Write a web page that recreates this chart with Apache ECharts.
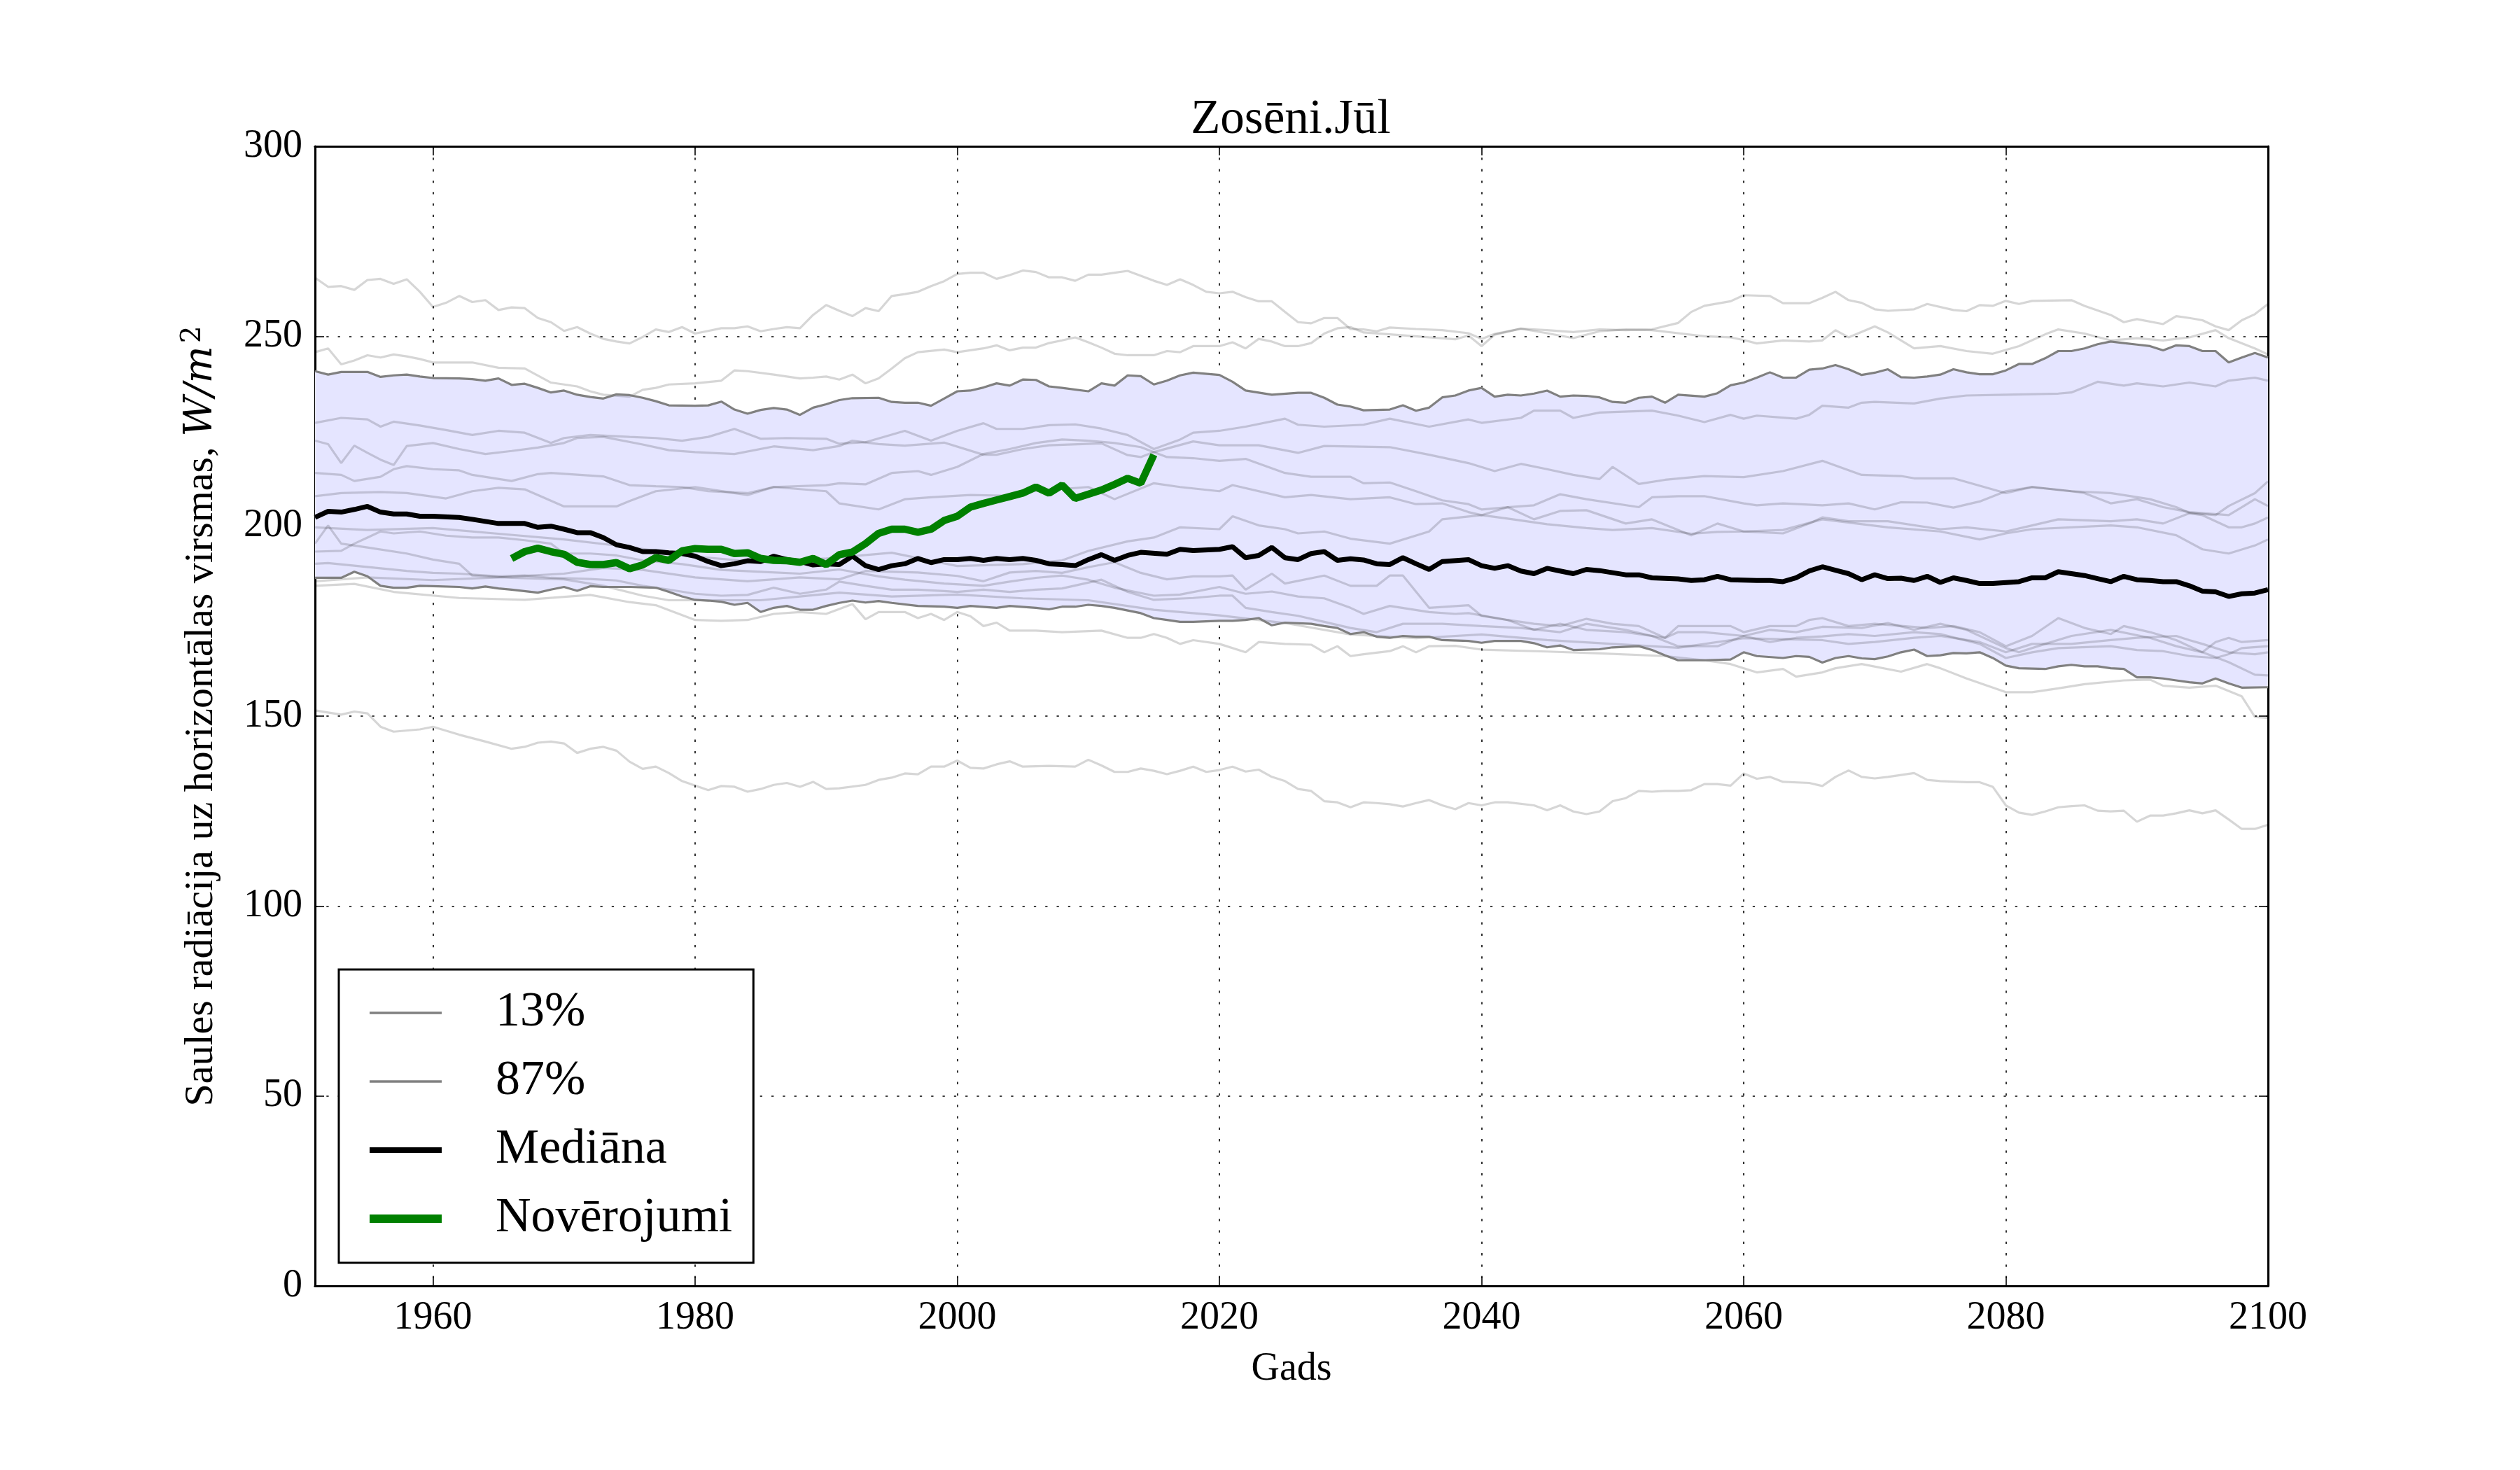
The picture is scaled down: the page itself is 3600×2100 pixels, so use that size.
<!DOCTYPE html>
<html>
<head>
<meta charset="utf-8">
<script src="https://cdn.jsdelivr.net/npm/echarts@6/dist/echarts.min.js"></script>
<style>
html,body{margin:0;padding:0;background:#fff;}
#chart{width:3600px;height:2100px;}
</style>
</head>
<body>
<div id="chart"></div>
<script>
// ---------------- DATA ----------------
const xTicks = [1960, 1980, 2000, 2020, 2040, 2060, 2080, 2100];
const titleText = 'Zosēni.Jūl';
const xName = 'Gads';

// 87% percentile
const p87 = [[1951,240.8],[1952,239.9],[1953,240.6],[1955,240.6],[1956,239.3],[1957,239.7],[1958,239.9],[1959,239.4],[1960,239.0],[1962,238.9],[1963,238.7],[1964,238.3],[1965,238.9],[1966,237.2],[1967,237.5],[1968,236.4],[1969,235.2],[1970,235.7],[1971,234.6],[1972,234.0],[1973,233.6],[1974,234.7],[1975,234.5],[1976,233.8],[1977,232.9],[1978,231.8],[1980,231.7],[1981,231.8],[1982,232.8],[1983,230.7],[1984,229.6],[1985,230.6],[1986,231.1],[1987,230.7],[1988,229.3],[1989,231.2],[1990,232.1],[1991,233.2],[1992,233.7],[1994,233.8],[1995,232.7],[1996,232.5],[1997,232.5],[1998,231.7],[1999,233.6],[2000,235.5],[2001,235.7],[2002,236.5],[2003,237.6],[2004,237.0],[2005,238.6],[2006,238.5],[2007,236.8],[2008,236.4],[2010,235.5],[2011,237.6],[2012,237.0],[2013,239.7],[2014,239.5],[2015,237.3],[2016,238.3],[2017,239.7],[2018,240.4],[2020,239.8],[2021,238.0],[2022,235.7],[2024,234.6],[2026,235.1],[2027,235.1],[2028,233.8],[2029,232.0],[2030,231.5],[2031,230.5],[2032,230.6],[2033,230.7],[2034,231.8],[2035,230.4],[2036,231.2],[2037,233.9],[2038,234.4],[2039,235.7],[2040,236.4],[2041,234.1],[2042,234.6],[2043,234.4],[2044,234.9],[2045,235.7],[2046,234.1],[2047,234.4],[2048,234.3],[2049,233.9],[2050,232.7],[2051,232.5],[2052,233.8],[2053,234.1],[2054,232.5],[2055,234.6],[2057,234.1],[2058,235.0],[2059,237.1],[2060,237.8],[2061,239.1],[2062,240.5],[2063,239.1],[2064,239.1],[2065,241.2],[2066,241.5],[2067,242.4],[2068,241.3],[2069,239.8],[2070,240.4],[2071,241.3],[2072,239.2],[2073,239.1],[2074,239.4],[2075,239.9],[2076,241.3],[2077,240.5],[2078,240.0],[2079,240.0],[2080,241.0],[2081,242.7],[2082,242.7],[2083,244.2],[2084,246.1],[2085,246.1],[2086,246.8],[2087,247.9],[2088,248.6],[2089,248.2],[2090,247.8],[2091,247.4],[2092,246.3],[2093,247.6],[2094,247.4],[2095,246.1],[2096,246.1],[2097,243.1],[2098,244.4],[2099,245.6],[2100,244.4]];

// 13% percentile
const p13 = [[1951,186.4],[1953,186.4],[1954,188.0],[1955,186.8],[1956,184.3],[1957,183.8],[1958,183.8],[1959,184.3],[1960,184.2],[1962,184.0],[1963,183.6],[1964,184.1],[1965,183.6],[1966,183.3],[1968,182.5],[1969,183.3],[1970,184.0],[1971,183.0],[1972,184.2],[1973,184.0],[1975,184.0],[1977,183.8],[1978,182.7],[1979,181.5],[1980,180.6],[1981,180.4],[1982,180.1],[1983,179.3],[1984,179.8],[1985,177.4],[1986,178.5],[1987,179.0],[1988,178.0],[1989,178.0],[1990,179.0],[1991,179.8],[1992,180.4],[1993,179.9],[1994,180.3],[1995,179.8],[1997,179.0],[1999,178.8],[2000,178.5],[2001,179.0],[2003,178.5],[2004,179.0],[2006,178.5],[2007,178.1],[2008,178.8],[2009,178.8],[2010,179.3],[2011,179.0],[2012,178.5],[2013,177.8],[2014,177.1],[2015,175.8],[2016,175.3],[2017,174.8],[2018,174.8],[2020,175.1],[2021,175.1],[2022,175.3],[2023,175.8],[2024,173.9],[2025,174.6],[2027,174.3],[2028,173.7],[2029,173.2],[2030,171.6],[2031,172.1],[2032,170.9],[2033,170.6],[2034,171.1],[2035,170.9],[2036,170.9],[2037,170.0],[2039,169.8],[2040,169.3],[2041,169.8],[2043,169.8],[2044,169.2],[2045,168.1],[2046,168.6],[2047,167.4],[2049,167.6],[2050,168.1],[2052,168.4],[2053,167.4],[2054,166.0],[2055,164.7],[2057,164.7],[2059,164.9],[2060,166.8],[2061,165.8],[2063,165.3],[2064,165.8],[2065,165.6],[2066,164.1],[2067,165.3],[2068,165.8],[2069,165.2],[2070,165.0],[2071,165.7],[2072,166.8],[2073,167.5],[2074,165.8],[2075,166.0],[2076,166.6],[2077,166.5],[2078,166.8],[2079,165.3],[2080,163.3],[2081,162.6],[2083,162.4],[2084,163.1],[2085,163.5],[2086,163.1],[2087,163.1],[2088,162.6],[2089,162.4],[2090,160.2],[2091,160.2],[2092,159.9],[2093,159.4],[2094,158.9],[2095,158.6],[2096,159.9],[2097,158.6],[2098,157.5],[2100,157.6]];

// Median
const median = [[1951,202.3],[1952,203.9],[1953,203.7],[1954,204.4],[1955,205.2],[1956,203.7],[1957,203.2],[1958,203.2],[1959,202.6],[1960,202.6],[1962,202.3],[1963,201.8],[1965,200.7],[1967,200.7],[1968,199.7],[1969,200.0],[1970,199.2],[1971,198.3],[1972,198.3],[1973,197.0],[1974,195.1],[1975,194.4],[1976,193.3],[1977,193.3],[1978,193.0],[1979,192.8],[1980,192.1],[1981,190.7],[1982,189.6],[1983,190.1],[1984,190.9],[1985,190.7],[1986,192.1],[1987,191.2],[1988,190.7],[1989,189.8],[1990,190.1],[1991,189.9],[1992,192.1],[1993,189.6],[1994,188.6],[1995,189.6],[1996,190.1],[1997,191.5],[1998,190.4],[1999,191.2],[2000,191.2],[2001,191.5],[2002,191.0],[2003,191.5],[2004,191.2],[2005,191.5],[2006,191.0],[2007,190.1],[2008,189.9],[2009,189.6],[2010,191.2],[2011,192.5],[2012,191.0],[2013,192.3],[2014,193.1],[2016,192.6],[2017,193.9],[2018,193.6],[2020,193.9],[2021,194.6],[2022,191.7],[2023,192.3],[2024,194.4],[2025,191.7],[2026,191.2],[2027,192.8],[2028,193.3],[2029,191.0],[2030,191.4],[2031,191.1],[2032,190.1],[2033,189.9],[2034,191.7],[2035,190.1],[2036,188.6],[2037,190.7],[2039,191.2],[2040,189.6],[2041,188.9],[2042,189.6],[2043,188.2],[2044,187.5],[2045,188.9],[2046,188.2],[2047,187.5],[2048,188.6],[2049,188.3],[2051,187.2],[2052,187.2],[2053,186.4],[2055,186.1],[2056,185.7],[2057,185.9],[2058,186.8],[2059,185.9],[2061,185.7],[2062,185.7],[2063,185.4],[2064,186.4],[2065,188.2],[2066,189.3],[2067,188.4],[2068,187.5],[2069,185.9],[2070,187.2],[2071,186.2],[2072,186.3],[2073,185.7],[2074,186.8],[2075,185.2],[2076,186.4],[2077,185.7],[2078,184.9],[2079,184.9],[2081,185.4],[2082,186.4],[2083,186.4],[2084,188.0],[2085,187.5],[2086,187.0],[2087,186.2],[2088,185.4],[2089,186.8],[2090,185.9],[2091,185.7],[2092,185.4],[2093,185.4],[2094,184.3],[2095,182.9],[2096,182.7],[2097,181.5],[2098,182.2],[2099,182.4],[2100,183.3]];

// Observations
const observed = [[1966,191.5],[1967,193.3],[1968,194.2],[1969,193.3],[1970,192.6],[1971,190.5],[1972,189.9],[1973,189.9],[1974,190.4],[1975,188.8],[1976,189.8],[1977,191.7],[1978,191.0],[1979,193.5],[1980,194.1],[1981,193.9],[1982,193.9],[1983,192.8],[1984,193.0],[1985,191.5],[1986,191.0],[1987,190.9],[1988,190.5],[1989,191.5],[1990,189.9],[1991,192.5],[1992,193.2],[1993,195.4],[1994,198.1],[1995,199.2],[1996,199.2],[1997,198.4],[1998,199.2],[1999,201.5],[2000,202.6],[2001,205.0],[2002,206.0],[2003,206.9],[2004,207.8],[2005,208.7],[2006,210.3],[2007,208.7],[2008,210.8],[2009,207.3],[2010,208.4],[2011,209.5],[2012,211.0],[2013,212.6],[2014,211.3],[2015,218.8]];

// Ensemble members (light gray)
const memberA = [[1951,265.4],[1952,263.0],[1953,263.2],[1954,262.2],[1955,264.8],[1956,265.1],[1957,263.8],[1958,265.0],[1959,261.7],[1960,257.7],[1961,258.8],[1962,260.6],[1963,259.0],[1964,259.5],[1965,256.9],[1966,257.6],[1967,257.4],[1968,254.8],[1969,253.7],[1970,251.4],[1971,252.4],[1972,250.7],[1973,249.3],[1974,248.6],[1975,248.1],[1976,249.8],[1977,251.8],[1978,251.1],[1979,252.4],[1980,250.7],[1981,251.4],[1982,252.1],[1983,252.1],[1984,252.6],[1985,251.3],[1986,251.9],[1987,252.4],[1988,252.1],[1989,255.6],[1990,258.2],[1991,256.7],[1992,255.3],[1993,257.4],[1994,256.6],[1995,260.6],[1996,261.1],[1997,261.7],[1998,263.2],[1999,264.5],[2000,266.4],[2001,266.7],[2002,266.7],[2003,265.1],[2004,266.1],[2005,267.3],[2006,266.9],[2007,265.5],[2008,265.5],[2009,264.6],[2010,266.2],[2011,266.2],[2012,266.7],[2013,267.2],[2014,265.9],[2015,264.6],[2016,263.5],[2017,265.0],[2018,263.5],[2019,261.7],[2020,261.3],[2021,261.7],[2022,260.3],[2023,259.2],[2024,259.2],[2025,256.4],[2026,253.7],[2027,253.4],[2028,254.8],[2029,254.8],[2030,251.9],[2031,251.8],[2032,251.3],[2033,252.3],[2035,251.9],[2037,251.6],[2039,250.8],[2040,249.3],[2041,250.6],[2043,252.0],[2045,251.6],[2047,251.1],[2049,251.8],[2051,251.6],[2053,251.8],[2055,253.5],[2056,256.4],[2057,258.0],[2059,259.2],[2060,260.8],[2062,260.6],[2063,258.7],[2065,258.7],[2066,260.1],[2067,261.7],[2068,259.5],[2069,258.8],[2070,257.1],[2071,256.7],[2073,257.1],[2074,258.5],[2076,256.9],[2077,256.6],[2078,258.2],[2079,258.0],[2080,259.3],[2081,258.5],[2082,259.3],[2085,259.5],[2086,258.0],[2088,255.6],[2089,253.7],[2090,254.5],[2092,253.2],[2093,255.3],[2094,254.8],[2095,254.2],[2096,252.6],[2097,251.6],[2098,254.2],[2099,255.8],[2100,258.5]];
const memberB = [[1951,245.8],[1952,246.8],[1953,242.6],[1954,243.6],[1955,245.0],[1956,244.4],[1957,245.2],[1958,244.7],[1959,244.0],[1960,243.1],[1963,243.1],[1965,241.7],[1967,241.5],[1969,237.8],[1971,236.8],[1972,235.5],[1973,234.6],[1975,234.1],[1976,235.9],[1977,236.4],[1978,237.3],[1980,237.6],[1982,238.3],[1983,241.0],[1984,240.8],[1986,239.9],[1988,238.9],[1989,239.1],[1990,239.4],[1991,238.6],[1992,239.9],[1993,237.6],[1994,238.9],[1995,241.5],[1996,244.2],[1997,245.8],[1999,246.5],[2000,245.8],[2002,246.8],[2003,247.6],[2004,246.3],[2005,247.0],[2006,247.0],[2007,248.2],[2008,248.9],[2009,249.7],[2010,248.4],[2011,247.0],[2012,245.4],[2013,245.0],[2015,245.0],[2016,246.1],[2017,245.8],[2018,247.4],[2020,247.4],[2021,248.4],[2022,246.8],[2023,249.3],[2024,248.6],[2025,247.4],[2026,247.4],[2027,248.2],[2028,250.7],[2029,252.1],[2030,252.4],[2031,251.0],[2033,250.5],[2036,249.7],[2038,249.2],[2039,250.2],[2040,247.4],[2041,250.4],[2043,252.0],[2045,250.8],[2047,249.5],[2049,251.3],[2051,251.8],[2053,251.6],[2055,250.8],[2057,250.0],[2059,249.7],[2060,249.0],[2061,248.1],[2063,248.9],[2065,248.6],[2066,248.9],[2067,251.6],[2068,249.7],[2070,252.6],[2071,251.0],[2073,246.8],[2075,247.4],[2077,246.1],[2079,245.4],[2081,247.4],[2083,250.5],[2084,251.8],[2086,250.7],[2088,248.9],[2090,249.5],[2092,248.9],[2094,249.7],[2096,251.6],[2097,249.5],[2099,246.8],[2100,245.2]];
const memberC = [[1951,227.2],[1953,228.5],[1955,228.1],[1956,226.2],[1957,227.5],[1959,226.5],[1961,225.3],[1963,224.0],[1965,225.1],[1967,224.6],[1969,221.9],[1970,223.2],[1972,224.0],[1975,223.5],[1977,223.2],[1979,222.5],[1981,223.5],[1983,225.6],[1985,223.0],[1987,223.2],[1990,223.0],[1991,221.7],[1993,222.1],[1996,225.1],[1998,222.5],[2000,225.1],[2002,227.1],[2003,225.6],[2005,225.6],[2007,226.6],[2009,226.8],[2011,225.7],[2013,224.0],[2015,220.3],[2017,222.8],[2018,224.6],[2020,225.1],[2022,226.2],[2025,228.3],[2026,226.7],[2028,226.2],[2031,226.7],[2033,228.3],[2036,226.2],[2039,228.1],[2040,227.2],[2043,228.5],[2044,230.4],[2046,230.4],[2047,228.5],[2049,229.9],[2053,230.4],[2055,229.1],[2057,227.4],[2059,229.3],[2060,228.3],[2061,229.1],[2064,228.3],[2065,229.3],[2066,231.7],[2068,231.2],[2069,232.5],[2070,232.7],[2073,232.3],[2075,233.6],[2077,234.4],[2080,234.6],[2084,234.9],[2085,235.2],[2087,238.0],[2089,237.0],[2090,237.6],[2092,236.8],[2094,237.8],[2096,236.8],[2097,238.3],[2099,239.1],[2100,238.3]];
const memberD = [[1951,222.5],[1952,221.6],[1953,216.6],[1954,221.2],[1955,219.3],[1956,217.5],[1957,216.1],[1958,221.1],[1960,221.9],[1962,220.3],[1964,219.0],[1966,219.8],[1968,220.7],[1970,221.9],[1971,223.2],[1973,223.5],[1976,221.5],[1978,220.0],[1980,219.5],[1983,219.0],[1986,221.0],[1989,220.0],[1991,221.1],[1992,222.5],[1994,221.6],[1996,221.2],[1999,222.0],[2002,218.8],[2003,218.8],[2005,220.3],[2007,221.3],[2011,221.8],[2013,218.7],[2014,218.2],[2015,219.5],[2018,222.3],[2020,221.3],[2023,221.3],[2026,219.3],[2028,221.1],[2033,220.8],[2036,218.8],[2039,216.6],[2041,214.5],[2043,216.4],[2045,215.0],[2047,213.5],[2049,212.4],[2050,215.6],[2052,211.1],[2054,212.2],[2057,213.2],[2060,212.9],[2063,214.5],[2066,217.2],[2069,213.5],[2072,213.2],[2073,212.6],[2076,212.6],[2080,208.7],[2082,210.3],[2085,209.2],[2088,208.7],[2091,207.1],[2093,205.0],[2094,203.5],[2096,202.9],[2097,205.3],[2099,208.7],[2100,211.8]];
const memberE = [[1951,214.0],[1953,213.5],[1954,211.9],[1956,213.0],[1957,215.0],[1958,215.8],[1960,215.0],[1962,214.7],[1963,213.5],[1966,211.9],[1968,213.7],[1969,214.0],[1973,213.1],[1975,210.8],[1977,210.5],[1979,210.3],[1981,209.2],[1984,208.7],[1986,210.3],[1990,210.8],[1991,211.3],[1993,211.0],[1995,214.0],[1997,214.5],[1998,213.5],[2000,215.6],[2002,219.0],[2004,220.3],[2006,221.9],[2008,222.8],[2010,222.5],[2012,221.9],[2014,220.8],[2016,218.2],[2018,217.9],[2020,217.2],[2022,217.7],[2025,214.0],[2027,213.0],[2030,213.0],[2031,211.3],[2033,211.5],[2035,209.2],[2037,206.8],[2039,205.8],[2040,204.4],[2042,205.0],[2044,201.8],[2046,204.0],[2048,204.2],[2051,200.7],[2053,201.8],[2056,197.6],[2058,200.7],[2060,198.6],[2063,198.1],[2065,200.7],[2066,202.3],[2068,201.3],[2071,201.3],[2075,199.2],[2077,199.7],[2080,198.6],[2082,200.2],[2084,201.8],[2088,201.3],[2090,201.8],[2092,200.7],[2094,203.4],[2095,202.9],[2097,199.7],[2098,199.7],[2099,200.7],[2100,202.3]];
const memberF = [[1951,207.9],[1953,208.7],[1956,209.0],[1958,208.7],[1961,207.3],[1963,209.2],[1965,210.1],[1967,209.7],[1970,205.2],[1972,205.2],[1974,205.2],[1975,206.6],[1977,209.2],[1980,210.3],[1983,208.7],[1984,208.2],[1986,210.3],[1990,209.2],[1991,206.0],[1994,204.4],[1996,207.1],[1998,207.6],[2001,208.2],[2004,208.0],[2006,209.3],[2008,209.8],[2010,210.3],[2012,207.1],[2015,211.3],[2017,210.3],[2020,209.2],[2021,210.8],[2025,207.6],[2027,208.2],[2030,207.1],[2033,207.6],[2035,205.8],[2037,206.0],[2039,203.7],[2040,202.9],[2042,205.0],[2044,205.5],[2046,208.4],[2048,207.1],[2052,205.0],[2053,207.6],[2055,207.9],[2057,207.9],[2060,206.0],[2061,205.5],[2063,206.0],[2066,205.5],[2068,206.0],[2070,204.4],[2072,206.3],[2074,206.2],[2076,204.9],[2078,206.5],[2080,209.2],[2082,210.3],[2085,209.2],[2086,208.7],[2088,206.0],[2090,207.1],[2092,205.0],[2094,203.7],[2097,202.9],[2098,205.0],[2099,207.1],[2100,205.3]];
const memberG = [[1951,199.7],[1955,199.0],[1960,199.5],[1965,198.0],[1970,196.5],[1975,194.5],[1980,192.0],[1985,190.5],[1990,191.5],[1995,193.0],[2000,189.5],[2005,190.0],[2008,191.0],[2010,193.5],[2013,196.0],[2015,197.0],[2017,199.7],[2020,199.2],[2021,202.6],[2023,200.2],[2025,199.2],[2026,198.1],[2028,198.6],[2030,196.7],[2033,195.4],[2036,198.6],[2037,201.8],[2040,202.9],[2042,202.0],[2045,200.5],[2048,199.5],[2050,199.0],[2053,199.5],[2056,198.0],[2058,198.5],[2060,198.6],[2063,199.0],[2066,201.8],[2071,199.7],[2075,198.6],[2078,196.5],[2080,198.1],[2082,199.2],[2088,200.2],[2090,199.7],[2093,197.6],[2095,193.9],[2097,192.8],[2099,194.9],[2100,196.5]];
const memberH = [[1951,195.4],[1952,200.2],[1953,195.4],[1955,194.4],[1958,192.8],[1960,191.2],[1962,190.1],[1963,187.0],[1966,186.4],[1970,186.0],[1973,184.3],[1976,181.7],[1978,180.5],[1981,180.5],[1985,180.5],[1988,181.5],[1991,182.5],[1995,181.5],[2000,182.0],[2005,181.0],[2010,180.5],[2015,178.0],[2020,176.5],[2025,174.5],[2030,171.5],[2035,170.5],[2040,171.5],[2045,170.0],[2050,169.0],[2055,168.0],[2060,170.5],[2066,170.0],[2068,169.0],[2070,169.5],[2073,170.6],[2075,171.1],[2078,169.5],[2080,166.8],[2082,169.0],[2085,169.0],[2088,170.0],[2090,170.6],[2093,171.1],[2094,170.0],[2095,169.0],[2097,166.8],[2099,166.3],[2100,166.8]];
const memberI = [[1951,190.1],[1952,190.3],[1954,189.6],[1956,188.9],[1958,188.2],[1960,187.7],[1962,187.5],[1965,186.8],[1967,187.0],[1969,186.4],[1972,186.1],[1974,185.7],[1976,184.3],[1978,183.3],[1980,182.2],[1982,181.7],[1984,181.9],[1986,183.8],[1988,182.2],[1990,183.3],[1991,185.4],[1993,184.3],[1995,183.3],[1997,183.3],[1999,182.9],[2000,182.7],[2002,183.3],[2004,182.7],[2006,183.3],[2008,183.6],[2011,185.9],[2013,182.7],[2015,180.6],[2018,181.1],[2020,181.7],[2021,181.7],[2022,178.5],[2024,177.4],[2026,176.4],[2028,174.8],[2030,173.2],[2032,172.1],[2034,174.3],[2037,174.3],[2040,173.7],[2043,173.2],[2046,172.1],[2048,174.3],[2051,172.7],[2053,171.1],[2055,168.4],[2058,168.4],[2060,171.1],[2062,169.5],[2064,170.6],[2066,171.0],[2068,171.6],[2070,171.1],[2073,172.1],[2075,171.6],[2078,169.0],[2080,165.3],[2082,166.8],[2084,167.9],[2088,168.4],[2090,167.4],[2092,167.1],[2094,165.8],[2096,165.3],[2097,166.3],[2098,167.9],[2100,168.4]];
const memberJ = [[1951,193.3],[1953,193.5],[1954,195.4],[1955,197.0],[1956,198.6],[1957,198.1],[1959,198.6],[1961,197.5],[1963,197.0],[1965,197.0],[1967,196.3],[1969,195.4],[1970,192.8],[1972,192.8],[1974,192.3],[1976,191.0],[1979,190.0],[1982,188.5],[1985,188.0],[1988,187.5],[1991,188.6],[1994,186.8],[1996,185.9],[1999,184.9],[2002,184.3],[2004,185.4],[2006,186.4],[2008,187.0],[2010,185.9],[2012,183.8],[2015,181.7],[2017,182.0],[2020,184.0],[2022,182.2],[2024,182.8],[2026,181.5],[2028,181.0],[2030,178.5],[2031,176.9],[2033,179.0],[2036,177.4],[2038,176.9],[2039,177.1],[2042,175.3],[2044,172.7],[2046,174.3],[2048,172.7],[2051,172.1],[2054,170.6],[2055,172.1],[2057,172.1],[2060,171.1],[2062,172.7],[2064,172.1],[2066,173.5],[2069,173.2],[2071,174.5],[2073,172.7],[2075,174.3],[2077,172.7],[2080,167.9],[2081,166.8],[2083,169.0],[2085,171.1],[2088,172.7],[2091,170.6],[2093,168.4],[2095,166.8],[2097,164.2],[2099,160.9],[2100,160.7]];
const memberK = [[1951,185.5],[1955,186.5],[1960,185.8],[1965,186.5],[1970,187.5],[1973,189.0],[1976,188.5],[1980,186.5],[1984,185.5],[1988,186.5],[1991,186.0],[1993,188.2],[1997,187.8],[2000,186.9],[2002,185.5],[2004,187.8],[2006,188.2],[2008,187.7],[2010,189.2],[2012,190.5],[2014,187.7],[2016,186.0],[2018,186.8],[2020,186.8],[2021,187.0],[2022,183.3],[2024,187.5],[2025,184.9],[2028,187.0],[2030,184.3],[2032,184.3],[2033,187.0],[2034,187.0],[2036,178.5],[2039,179.2],[2040,176.4],[2042,175.3],[2044,174.3],[2046,173.7],[2048,175.6],[2050,174.3],[2052,173.7],[2054,170.6],[2055,173.7],[2057,173.7],[2059,173.7],[2060,172.1],[2062,173.7],[2064,173.7],[2065,175.3],[2066,175.8],[2068,173.7],[2070,174.3],[2074,173.2],[2076,173.7],[2078,172.1],[2080,168.4],[2082,171.1],[2084,175.8],[2086,173.2],[2088,171.6],[2089,173.7],[2091,172.1],[2092,171.1],[2093,170.0],[2095,166.8],[2096,169.5],[2097,170.6],[2098,169.5],[2100,170.0]];
const memberL = [[1951,184.3],[1954,184.8],[1957,182.7],[1962,181.1],[1967,180.6],[1972,181.9],[1975,180.0],[1977,179.2],[1980,175.3],[1982,175.1],[1984,175.3],[1986,176.9],[1988,177.4],[1990,176.9],[1992,179.5],[1993,175.5],[1994,177.4],[1996,177.4],[1997,175.8],[1998,176.9],[1999,175.3],[2000,177.4],[2001,176.3],[2002,173.7],[2003,174.6],[2004,172.5],[2006,172.5],[2008,172.1],[2011,172.5],[2013,170.6],[2014,170.6],[2015,171.6],[2016,170.6],[2017,169.0],[2018,170.0],[2020,169.0],[2022,166.8],[2023,169.5],[2025,169.0],[2027,168.8],[2028,166.8],[2029,168.4],[2030,165.8],[2031,166.3],[2033,167.1],[2034,168.4],[2035,166.8],[2036,168.4],[2038,168.5],[2040,167.5],[2045,167.0],[2049,166.5],[2054,165.8],[2057,164.7],[2059,163.7],[2061,161.5],[2063,162.4],[2064,160.4],[2066,161.5],[2067,162.6],[2069,163.7],[2072,161.7],[2074,163.7],[2075,162.6],[2077,159.9],[2080,156.3],[2082,156.3],[2084,157.3],[2086,158.4],[2089,159.4],[2091,159.6],[2092,158.0],[2094,157.5],[2096,158.0],[2098,155.2],[2099,149.8],[2100,149.5]];
const memberM = [[1951,151.5],[1953,150.4],[1954,151.2],[1955,150.7],[1956,147.2],[1957,145.9],[1959,146.5],[1960,147.2],[1962,145.1],[1964,143.3],[1966,141.4],[1967,141.9],[1968,143.0],[1969,143.3],[1970,142.8],[1971,140.3],[1972,141.4],[1973,141.9],[1974,140.9],[1975,138.0],[1976,136.1],[1977,136.7],[1978,135.0],[1979,132.9],[1980,131.7],[1981,130.5],[1982,131.6],[1983,131.4],[1984,130.1],[1985,130.8],[1986,131.9],[1987,132.4],[1988,131.4],[1989,132.7],[1990,130.8],[1991,131.0],[1993,131.9],[1994,133.2],[1995,133.8],[1996,134.9],[1997,134.7],[1998,136.7],[1999,136.7],[2000,138.3],[2001,136.4],[2002,136.2],[2003,137.3],[2004,138.1],[2005,136.7],[2007,136.9],[2009,136.7],[2010,138.5],[2011,137.0],[2012,135.3],[2013,135.3],[2014,136.2],[2015,135.6],[2016,134.7],[2017,135.6],[2018,136.7],[2019,135.3],[2020,135.8],[2021,136.7],[2022,135.4],[2023,135.9],[2024,134.0],[2025,132.9],[2026,130.8],[2027,130.3],[2028,127.6],[2029,127.3],[2030,126.0],[2031,127.3],[2032,127.1],[2033,126.8],[2034,126.2],[2035,127.1],[2036,127.9],[2037,126.5],[2038,125.5],[2039,127.1],[2040,126.5],[2041,127.3],[2042,127.3],[2044,126.5],[2045,125.2],[2046,126.5],[2047,124.9],[2048,124.2],[2049,124.9],[2050,127.6],[2051,128.4],[2052,130.3],[2053,130.1],[2054,130.3],[2055,130.3],[2056,130.5],[2057,132.1],[2058,132.1],[2059,131.7],[2060,134.9],[2061,133.5],[2062,134.0],[2063,132.7],[2065,132.4],[2066,131.6],[2067,134.0],[2068,135.7],[2069,134.0],[2070,133.6],[2071,134.0],[2073,135.0],[2074,133.2],[2075,132.9],[2077,132.6],[2078,132.6],[2079,131.4],[2080,126.5],[2081,124.6],[2082,124.0],[2083,124.9],[2084,126.0],[2085,126.3],[2086,126.5],[2087,125.1],[2088,124.9],[2089,125.1],[2090,122.2],[2091,123.8],[2092,123.8],[2093,124.4],[2094,125.2],[2095,124.4],[2096,125.2],[2097,122.8],[2098,120.3],[2099,120.3],[2100,121.4]];

const members = [memberA, memberB, memberC, memberD, memberE, memberF, memberG, memberH, memberI, memberJ, memberK, memberL, memberM];

const legendNames = ['13%', '87%', 'Mediāna', 'Novērojumi'];

// ---------------- CHART ----------------
const FONT = "'Liberation Serif', 'DejaVu Serif', 'Times New Roman', serif";
const MATHFONT = "'DejaVu Serif', 'Liberation Serif', serif";
const chart = echarts.init(document.getElementById('chart'), null, {renderer: 'canvas'});

const dotted = {color: '#000', width: 1.6, type: [3.3, 13]};

const series = [];
series.push({
  type: 'custom',
  name: 'band',
  silent: true,
  clip: true,
  z: 1,
  data: [[1951, 200]],
  renderItem: function (params, api) {
    const pts = p87.map(d => api.coord(d)).concat(p13.slice().reverse().map(d => api.coord(d)));
    return {type: 'polygon', shape: {points: pts}, style: {fill: '#e5e5ff', stroke: null}};
  }
});
members.forEach((m, i) => {
  series.push({
    type: 'line', name: 'member' + i, data: m, symbol: 'none', silent: true, z: 2,
    lineStyle: {color: 'rgba(0,0,0,0.16)', width: 3.2}
  });
});
series.push({type: 'line', name: '13%', data: p13, symbol: 'none', silent: true, z: 3,
  lineStyle: {color: '#808080', width: 3.2}, itemStyle: {color: '#808080'}});
series.push({type: 'line', name: '87%', data: p87, symbol: 'none', silent: true, z: 3,
  lineStyle: {color: '#808080', width: 3.2}, itemStyle: {color: '#808080'}});
series.push({type: 'line', name: 'Mediāna', data: median, symbol: 'none', silent: true, z: 4,
  lineStyle: {color: '#000000', width: 7}, itemStyle: {color: '#000000'}});
series.push({type: 'line', name: 'Novērojumi', data: observed, symbol: 'none', silent: true, z: 5,
  lineStyle: {color: '#008000', width: 10.5}, itemStyle: {color: '#008000'}});

const option = {
  animation: false,
  backgroundColor: '#ffffff',
  title: {
    text: titleText,
    left: 1839,
    textAlign: 'center',
    top: 132,
    textStyle: {fontFamily: FONT, fontSize: 69, fontWeight: 'normal', color: '#000'}
  },
  grid: {left: 450, right: 360, top: 209, bottom: 263, containLabel: false},
  legend: {
    show: true,
    orient: 'vertical',
    left: 484,
    top: 1385,
    selectedMode: false,
    itemWidth: 103,
    itemHeight: 70,
    itemGap: 28,
    symbolKeepAspect: true,
    padding: [27, 30, 28, 44],
    borderColor: '#000',
    borderWidth: 3,
    backgroundColor: '#fff',
    textStyle: {fontFamily: FONT, fontSize: 70, color: '#000', padding: [0, 0, 0, 72]},
    data: [
      {name: legendNames[0], icon: 'path://M0 0H103V3.3H0Z', itemStyle: {color: '#808080'}},
      {name: legendNames[1], icon: 'path://M0 0H103V3.3H0Z', itemStyle: {color: '#808080'}},
      {name: legendNames[2], icon: 'path://M0 0H103V8H0Z', itemStyle: {color: '#000000'}},
      {name: legendNames[3], icon: 'path://M0 0H103V12H0Z', itemStyle: {color: '#008000'}}
    ]
  },
  xAxis: [{
    type: 'value', min: 1951, max: 2100, position: 'bottom',
    name: xName, nameLocation: 'middle', nameGap: 91,
    nameTextStyle: {fontFamily: FONT, fontSize: 56, color: '#000'},
    axisLine: {show: true, onZero: false, lineStyle: {color: '#000', width: 3.2}},
    axisTick: {show: true, inside: true, length: 13, customValues: xTicks, lineStyle: {color: '#000', width: 1.6}},
    axisLabel: {show: true, customValues: xTicks, margin: 18, fontFamily: FONT, fontSize: 56, color: '#000',
      formatter: v => String(v)},
    splitLine: {show: true, lineStyle: dotted}
  }, {
    type: 'value', min: 1951, max: 2100, position: 'top',
    axisLine: {show: true, onZero: false, lineStyle: {color: '#000', width: 3.2}},
    axisTick: {show: true, inside: true, length: 13, customValues: xTicks, lineStyle: {color: '#000', width: 1.6}},
    axisLabel: {show: false},
    splitLine: {show: false}
  }],
  yAxis: [{
    type: 'value', min: 0, max: 300, interval: 50, position: 'left',
    name: 'Saules radiācija uz horizontālas virsmas, {i|W/m}{s|2}',
    nameLocation: 'middle', nameGap: 131, nameRotate: 90,
    nameTextStyle: {fontFamily: FONT, fontSize: 58, color: '#000',
      rich: {
        i: {fontFamily: MATHFONT, fontStyle: 'italic', fontSize: 56, color: '#000'},
        s: {fontFamily: MATHFONT, fontStyle: 'normal', fontSize: 39, color: '#000', verticalAlign: 'top', padding: [0, 0, 24, 4]}
      }},
    axisLine: {show: true, onZero: false, lineStyle: {color: '#000', width: 3.2}},
    axisTick: {show: true, inside: true, length: 13, lineStyle: {color: '#000', width: 1.6}},
    axisLabel: {show: true, margin: 18, fontFamily: FONT, fontSize: 56, color: '#000'},
    splitLine: {show: true, lineStyle: dotted}
  }, {
    type: 'value', min: 0, max: 300, interval: 50, position: 'right',
    axisLine: {show: true, onZero: false, lineStyle: {color: '#000', width: 3.2}},
    axisTick: {show: true, inside: true, length: 13, lineStyle: {color: '#000', width: 1.6}},
    axisLabel: {show: false},
    splitLine: {show: false}
  }],
  series: series
};
chart.setOption(option);
</script>
</body>
</html>
